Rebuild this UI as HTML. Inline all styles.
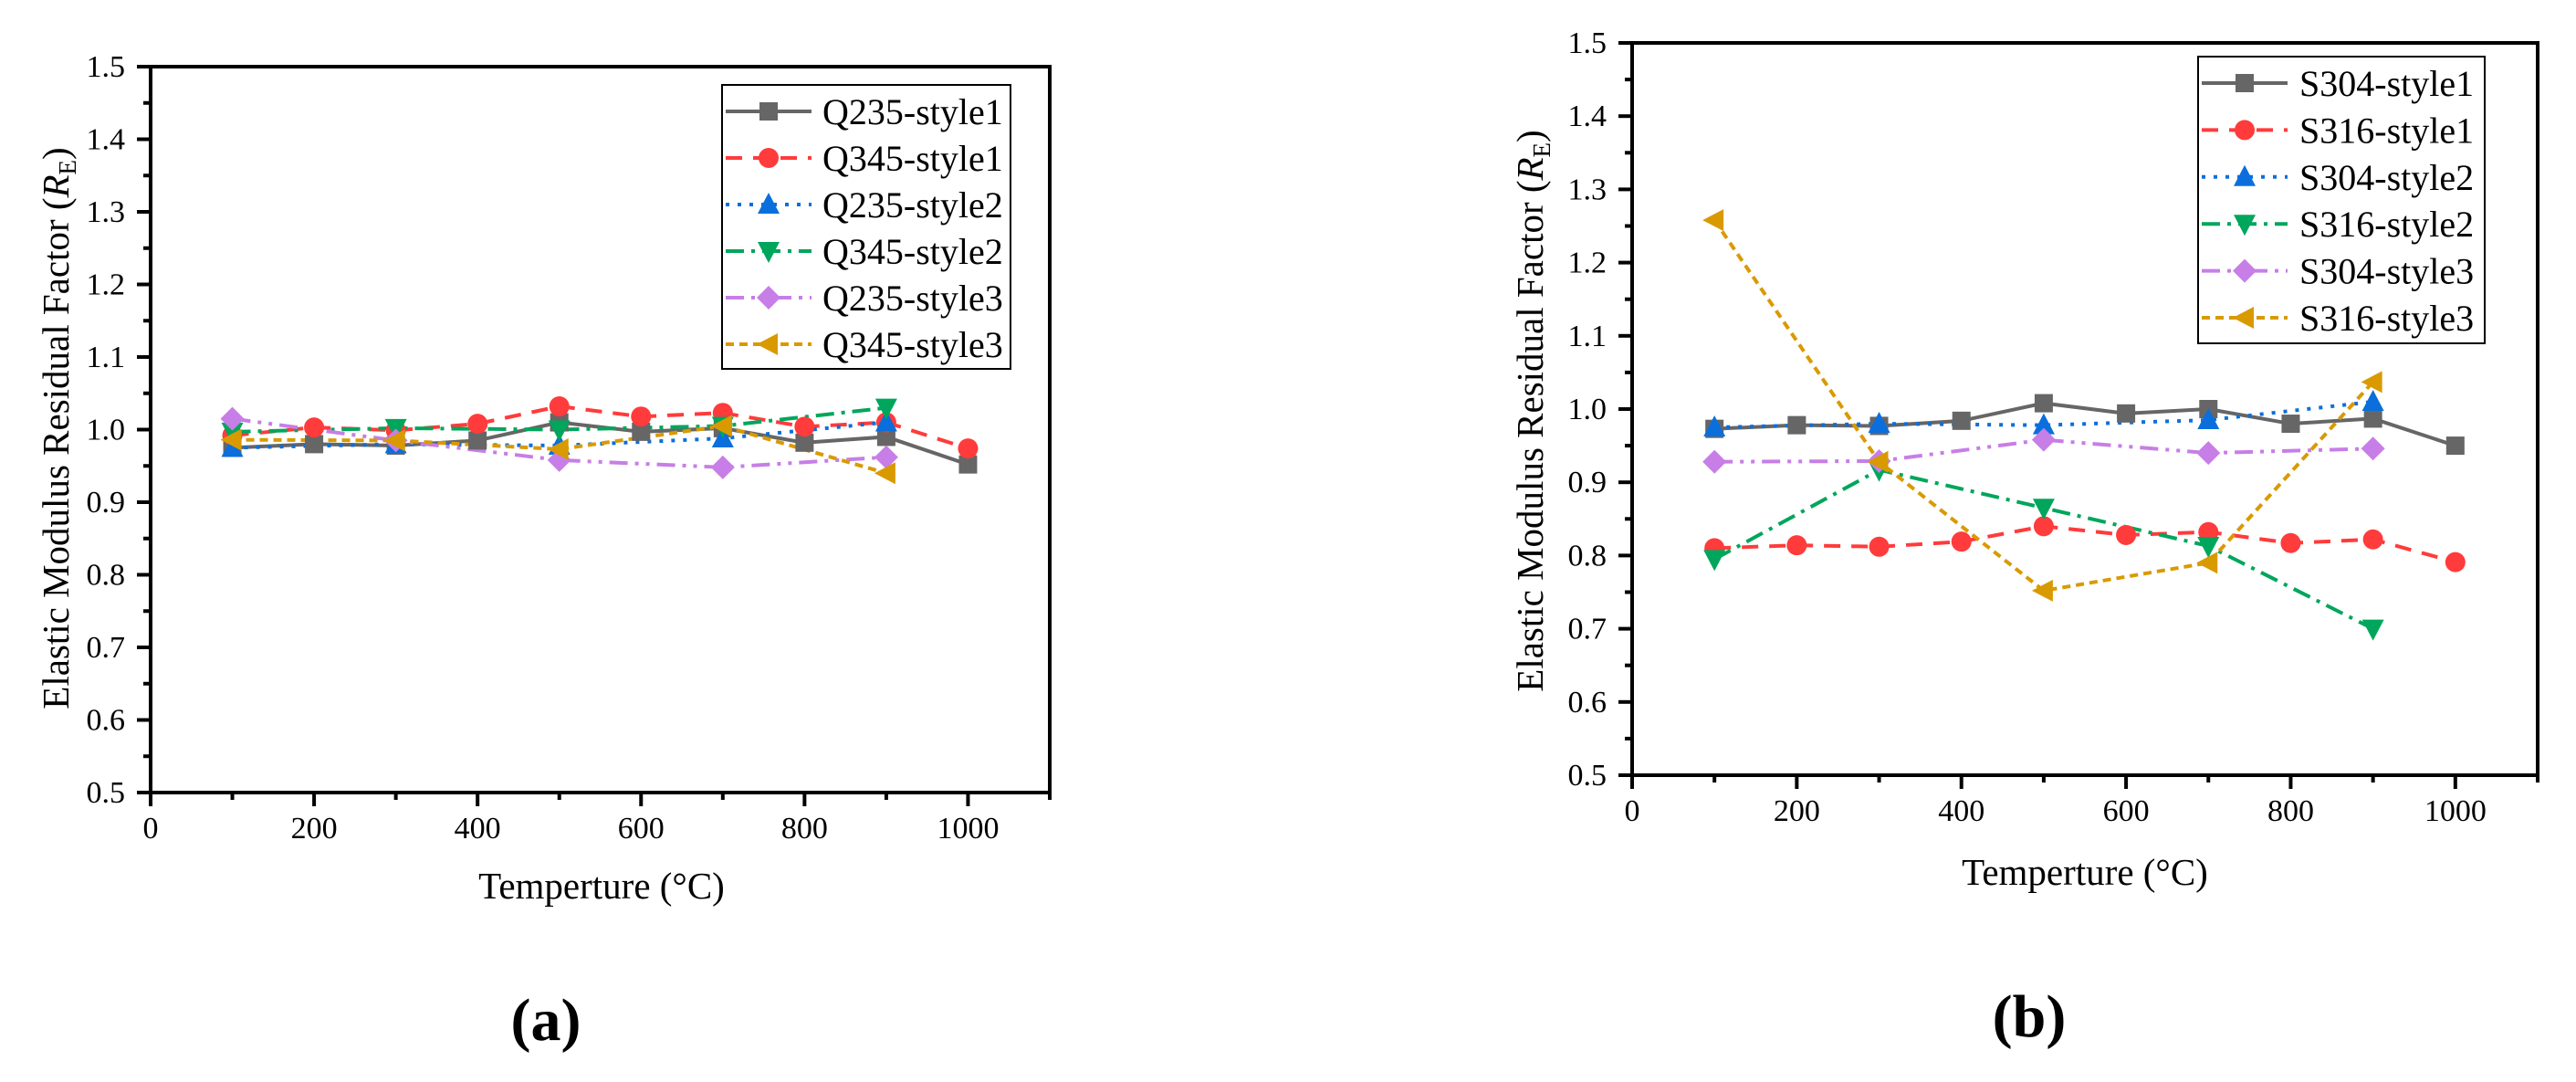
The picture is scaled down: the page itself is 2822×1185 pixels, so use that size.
<!DOCTYPE html>
<html><head><meta charset="utf-8"><style>
html,body{margin:0;padding:0;background:#fff;}
svg{display:block;font-family:"Liberation Serif",serif;}
text{font-family:"Liberation Serif",serif;}
</style></head><body>
<svg id="fig" width="2822" height="1185" viewBox="0 0 2822 1185" font-family="Liberation Serif, serif"></svg>
<script>
// Panel (a) data
const xFull = [100,200,300,400,500,600,700,800,900,1000];
const xOdd = [100,300,500,700,900];
const aNames = ["Q235-style1","Q345-style1","Q235-style2","Q345-style2","Q235-style3","Q345-style3"];
const aQ235s1 = [0.975,0.980,0.978,0.985,1.010,0.997,1.002,0.982,0.990,0.952];
const aQ345s1 = [0.992,1.003,0.999,1.008,1.032,1.018,1.023,1.004,1.010,0.974];
const aQ235s2 = [0.975,0.980,0.978,0.988,1.010];
const aQ345s2 = [0.997,1.002,1.000,1.005,1.030];
const aQ235s3 = [1.015,0.985,0.958,0.948,0.962];
const aQ345s3 = [0.986,0.985,0.973,1.005,0.940];
// Panel (b) data
const bNames = ["S304-style1","S316-style1","S304-style2","S316-style2","S304-style3","S316-style3"];
const bS304s1 = [0.973,0.978,0.977,0.984,1.008,0.994,1.000,0.980,0.987,0.950];
const bS316s1 = [0.810,0.814,0.812,0.819,0.840,0.828,0.832,0.817,0.822,0.791];
const bS304s2 = [0.975,0.980,0.978,0.985,1.010];
const bS316s2 = [0.795,0.917,0.865,0.813,0.700];
const bS304s3 = [0.928,0.929,0.958,0.940,0.946];
const bS316s3 = [1.258,0.928,0.752,0.790,1.037];
const xTicks = [0,200,400,600,800,1000];
const yTicks = [0.5,0.6,0.7,0.8,0.9,1.0,1.1,1.2,1.3,1.4,1.5];

const NS="http://www.w3.org/2000/svg";
const FF="Liberation Serif, serif";
const svg=document.getElementById('fig');
function mk(tag,attrs,parent){const e=document.createElementNS(NS,tag);for(const k in attrs)e.setAttribute(k,attrs[k]);if(tag==='text')e.setAttribute('font-family',FF);(parent||svg).appendChild(e);return e;}
const colors=["#666666","#ff3b3b","#0a6fdc","#00a65c","#c77ee6","#d99a00"];
const dashes=["none","18 12","4 9","20 8 4 8","20 8 4 8 4 8","9 6"];
const markers=["square","circle","tri-up","tri-down","diamond","tri-left"];
function marker(g,type,x,y,c){
  const s=10;let el;
  if(type==="square")el=mk('rect',{x:x-s,y:y-s,width:2*s,height:2*s,fill:c},g);
  else if(type==="circle")el=mk('circle',{cx:x,cy:y,r:s+1,fill:c},g);
  else{let p;
    if(type==="tri-up")p=[[x,y-s-3],[x+s+2,y+s],[x-s-2,y+s]];
    else if(type==="tri-down")p=[[x,y+s+3],[x+s+2,y-s],[x-s-2,y-s]];
    else if(type==="tri-left")p=[[x-s-3,y],[x+s,y-s-2],[x+s,y+s+2]];
    else p=[[x,y-s-3],[x+s+3,y],[x,y+s+3],[x-s-3,y]];
    el=mk('polygon',{points:p.map(q=>q.join(',')).join(' '),fill:c},g);}
  
  
}
function chart(cfg){
  const g=mk('g',{});
  
  
  const L=cfg.left,R=cfg.right,T=cfg.top,B=cfg.bottom;
  const sx=v=>L+(R-L)*v/1100, sy=v=>B-(B-T)*(v-0.5)/1.0;
  for(let v=0;v<=1100;v+=100){const X=sx(v);const big=v%200===0;
    mk('line',{x1:X,y1:B,x2:X,y2:B+(big?15:8),stroke:"#000","stroke-width":4},g);}
  for(let i=0;i<=20;i++){const v=0.5+i*0.05;const Y=sy(v);const big=i%2===0;
    mk('line',{x1:L,y1:Y,x2:L-(big?15:8),y2:Y,stroke:"#000","stroke-width":4},g);}
  xTicks.forEach(v=>{const t=mk('text',{x:sx(v),y:B+50,"font-size":34,"text-anchor":"middle"},g);t.textContent=v;
    });
  yTicks.forEach(v=>{const t=mk('text',{x:L-28,y:sy(v)+11,"font-size":34,"text-anchor":"end"},g);t.textContent=v.toFixed(1);
    });
  cfg.series.forEach((s,i)=>{
    const xs=s.length===10?xFull:xOdd;
    const pts=s.map((v,j)=>sx(xs[j])+','+sy(v)).join(' ');
    const pl=mk('polyline',{points:pts,fill:"none",stroke:colors[i],"stroke-width":4,"stroke-dasharray":dashes[i]},g);
    
    
  });
  cfg.series.forEach((s,i)=>{
    const xs=s.length===10?xFull:xOdd;
    s.forEach((v,j)=>marker(g,markers[i],sx(xs[j]),sy(v),colors[i]));
  });
  const fr=mk('rect',{x:L,y:T,width:R-L,height:B-T,fill:"none",stroke:"#000","stroke-width":4},g);
  
  const lg=mk('g',{},g);
  
  const lb=cfg.legend;
  mk('rect',{x:lb.x,y:lb.y,width:lb.w,height:lb.h,fill:"#fff",stroke:"#000","stroke-width":2},lg);
  cfg.names.forEach((n,i)=>{
    const Y=lb.y0+i*lb.dy;
    const e=mk('g',{},lg);
    
    mk('line',{x1:lb.x+4,y1:Y,x2:lb.x+98,y2:Y,stroke:colors[i],"stroke-width":4,"stroke-dasharray":dashes[i]},e);
    marker(e,markers[i],lb.x+51,Y,colors[i]);
    const t=mk('text',{x:lb.tx,y:Y+14,"font-size":40},e);t.textContent=n;
  });
  const xt=mk('text',{x:cfg.xtx,y:cfg.xty,"font-size":41,"text-anchor":"middle"},g);
  xt.textContent="Temperture (°C)";
  
  const yt=mk('text',{x:0,y:0,"font-size":41,"text-anchor":"middle",transform:`translate(${cfg.ytx},${cfg.yty}) rotate(-90)`},g);
  yt.innerHTML='Elastic Modulus Residual Factor (<tspan font-style="italic">R</tspan><tspan font-size="27" dy="8">E</tspan><tspan dy="-8">)</tspan>';
  
  const pl=mk('text',{x:cfg.ptx,y:cfg.pty,"font-size":66,"text-anchor":"middle","font-weight":"bold"},g);
  pl.textContent=cfg.panel;
  
}
chart({name:"chart-a",left:165,right:1150,top:73,bottom:868,series:[aQ235s1,aQ345s1,aQ235s2,aQ345s2,aQ235s3,aQ345s3],names:aNames,
  legend:{x:791,y:93,w:316,h:311,y0:122,dy:51,tx:901},xtx:659,xty:984,ytx:75,yty:469,ptx:598,pty:1139,panel:"(a)"});
chart({name:"chart-b",left:1788,right:2780,top:47,bottom:849,series:[bS304s1,bS316s1,bS304s2,bS316s2,bS304s3,bS316s3],names:bNames,
  legend:{x:2408,y:62,w:314,h:314,y0:91,dy:51.4,tx:2519},xtx:2284,xty:969,ytx:1690,yty:450,ptx:2223,pty:1135,panel:"(b)"});
</script>
</body></html>
